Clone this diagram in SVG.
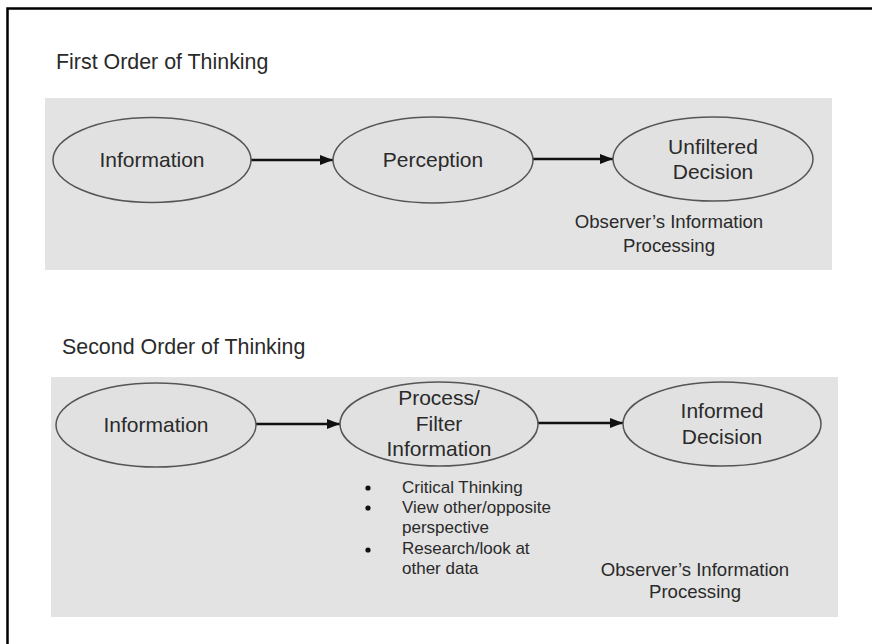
<svg xmlns="http://www.w3.org/2000/svg" width="872" height="644" viewBox="0 0 872 644">
<defs>
<marker id="ah" viewBox="0 0 13 10" refX="13" refY="5" markerWidth="13" markerHeight="10" markerUnits="userSpaceOnUse" orient="auto">
<path d="M0,0 L13,5 L0,10 Z" fill="#111"/>
</marker>
<style>
text{font-family:"Liberation Sans",Arial,sans-serif;fill:#2a2a2a}
.title{font-size:21.4px}
.node{font-size:21px;text-anchor:middle}
.note{font-size:18.6px;text-anchor:middle}
.bul{font-size:17px}
.panel{fill:#e3e3e3}
.oval{fill:#e1e1e1;stroke:#555;stroke-width:1.5}
.conn{stroke:#111;stroke-width:2.3;fill:none}
</style>
</defs>
<rect x="0" y="0" width="872" height="644" fill="#fff"/>
<rect x="7.5" y="8.5" width="900" height="700" fill="none" stroke="#000" stroke-width="2.5"/>

<g id="first-order">
<text class="title" x="56" y="69">First Order of Thinking</text>
<rect class="panel" x="45" y="98" width="787" height="172"/>
</g>

<g id="second-order">
<text class="title" x="62" y="354">Second Order of Thinking</text>
<rect class="panel" x="51" y="377" width="787" height="240"/>
</g>

<g id="connectors">
<line class="conn" x1="251" y1="160" x2="333" y2="160" marker-end="url(#ah)"/>
<line class="conn" x1="533" y1="159" x2="613" y2="159" marker-end="url(#ah)"/>
<line class="conn" x1="256" y1="424" x2="340" y2="424" marker-end="url(#ah)"/>
<line class="conn" x1="538" y1="423" x2="623" y2="423" marker-end="url(#ah)"/>
</g>

<g id="n1-information">
<ellipse class="oval" cx="152" cy="160" rx="99" ry="42.5"/>
<text class="node" x="152" y="167">Information</text>
</g>
<g id="n1-perception">
<ellipse class="oval" cx="433" cy="160" rx="100" ry="43"/>
<text class="node" x="433" y="167">Perception</text>
</g>
<g id="n1-unfiltered">
<ellipse class="oval" cx="713" cy="159" rx="100" ry="42"/>
<text class="node" x="713" y="154">Unfiltered</text>
<text class="node" x="713" y="179">Decision</text>
</g>
<g id="n1-observer">
<text class="note" x="669" y="228">Observer’s Information</text>
<text class="note" x="669" y="252">Processing</text>
</g>

<g id="n2-information">
<ellipse class="oval" cx="156" cy="425" rx="100" ry="42"/>
<text class="node" x="156" y="432">Information</text>
</g>
<g id="n2-process">
<ellipse class="oval" cx="439" cy="424" rx="99" ry="42"/>
<text class="node" x="439" y="405">Process/</text>
<text class="node" x="439" y="431">Filter</text>
<text class="node" x="439" y="456">Information</text>
</g>
<g id="n2-bullets">
<circle cx="368" cy="488" r="2.6" fill="#111"/>
<circle cx="368" cy="508" r="2.6" fill="#111"/>
<circle cx="368" cy="550" r="2.6" fill="#111"/>
<text class="bul" x="402" y="493">Critical Thinking</text>
<text class="bul" x="402" y="513">View other/opposite</text>
<text class="bul" x="402" y="533">perspective</text>
<text class="bul" x="402" y="554">Research/look at</text>
<text class="bul" x="402" y="574">other data</text>
</g>
<g id="n2-informed">
<ellipse class="oval" cx="722" cy="424" rx="99" ry="42"/>
<text class="node" x="722" y="418">Informed</text>
<text class="node" x="722" y="444">Decision</text>
</g>
<g id="n2-observer">
<text class="note" x="695" y="576">Observer’s Information</text>
<text class="note" x="695" y="598">Processing</text>
</g>
</svg>
